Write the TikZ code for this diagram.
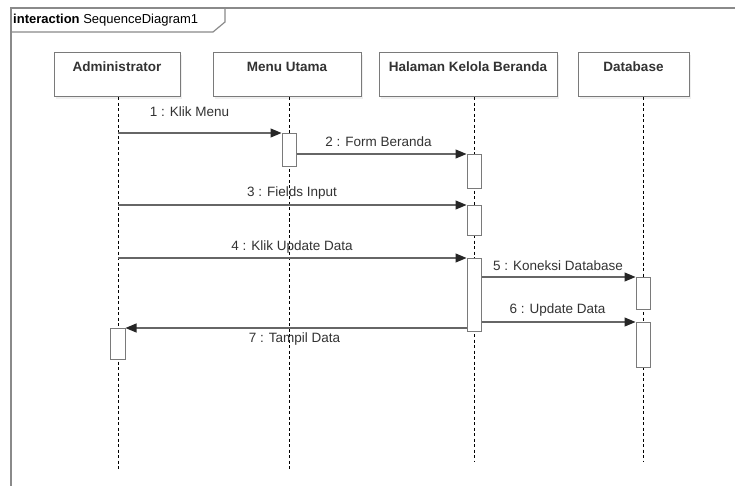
\documentclass[tikz,border=0pt]{standalone}
\usepackage{fontspec}
\setmainfont{Liberation Sans}
\usetikzlibrary{arrows.meta,shadows}
\definecolor{framegray}{HTML}{8A8A8A}
\definecolor{boxgray}{HTML}{7A7A7A}
\definecolor{linegray}{HTML}{666666}
\definecolor{txtgray}{HTML}{333333}
\tikzset{
  head/.style={draw=boxgray, line width=1pt, fill=white, minimum height=44pt, inner sep=0pt,
    drop shadow={shadow xshift=2pt, shadow yshift=-2pt, opacity=0.12}},
  headtxt/.style={font=\fontsize{13.5}{16}\selectfont\bfseries, text=txtgray},
  life/.style={draw=black, line width=0.7pt, dash pattern=on 3pt off 2.5pt},
  act/.style={draw=boxgray, line width=1pt, fill=white, minimum width=14pt, inner sep=0pt},
  msg/.style={draw=linegray, line width=1.2pt, -{Triangle[length=11pt,width=9pt,color=black!85]}},
  lbl/.style={font=\fontsize{13.5}{16}\selectfont, text=txtgray, inner sep=0pt}
}
\begin{document}
\begin{tikzpicture}[x=1pt,y=-1pt]
\useasboundingbox (0,0) rectangle (735,486);
\fill[white] (0,0) rectangle (735,486);
% frame
\draw[framegray, line width=1.6pt] (11,486) -- (11,8) -- (735,8);
\draw[framegray, line width=1.2pt] (11,32) -- (213,32) -- (225,22) -- (225,8);
\node[anchor=west, inner sep=0pt, font=\fontsize{13}{15}\selectfont, text=black] (title) at (13,20) {\textbf{interaction} SequenceDiagram1};
% headers
\node[head, minimum width=126pt, label={[headtxt, anchor=north, yshift=-6pt]north:Administrator}] (adm) at (117,75) {};
\node[head, minimum width=148pt, label={[headtxt, anchor=north, yshift=-6pt]north:Menu Utama}] (menu) at (287,75) {};
\node[head, minimum width=178pt, label={[headtxt, anchor=north, yshift=-6pt]north:Halaman Kelola Beranda}] (hal) at (468,75) {};
\node[head, minimum width=111pt, label={[headtxt, anchor=north, yshift=-6pt]north:Database}] (db) at (633.5,75) {};
% lifeline ends
\coordinate (admend) at (118,469);
\coordinate (menuend) at (289,469);
\coordinate (halend) at (474,462);
\coordinate (dbend) at (643,462);
\draw[life] (adm.south -| admend) -- (admend);
\draw[life] (menu.south -| menuend) -- (menuend);
\draw[life] (hal.south -| halend) -- (halend);
\draw[life] (db.south -| dbend) -- (dbend);
% activations
\node[act, anchor=north, minimum height=33pt] (a1) at (289,133) {};
\node[act, anchor=north, minimum height=34pt] (a2) at (474,154) {};
\node[act, anchor=north, minimum height=30pt] (a3) at (474,205) {};
\node[act, anchor=north, minimum height=73pt] (a4) at (474,258) {};
\node[act, anchor=north, minimum height=32pt] (a5) at (643,277) {};
\node[act, anchor=north, minimum height=45pt] (a6) at (643,322) {};
\node[act, anchor=north, minimum height=31pt, minimum width=15pt] (a7) at (117.5,328) {};
% message sources on the Administrator lifeline
\coordinate (s1) at (118,133);
\coordinate (s3) at (118,205);
\coordinate (s4) at (118,258);
% messages
\draw[msg] (s1) -- (a1.north west);
\draw[msg] (a1.east |- a2.north) -- (a2.north west);
\draw[msg] (s3) -- (a3.north west);
\draw[msg] (s4) -- (a4.north west);
\draw[msg] (a4.east |- a5.north) -- (a5.north west);
\draw[msg] (a4.east |- a6.north) -- (a6.north west);
\draw[msg] (a4.west |- a7.north) -- (a7.north east);
% labels
\node[lbl] (m1) at (189.5,112) {1 : Klik Menu};
\node[lbl] (m2) at (378.5,142) {2 : Form Beranda};
\node[lbl] (m3) at (292,193) {3 : Fields Input};
\node[lbl] (m4) at (292,247) {4 : Klik Update Data};
\node[lbl] (m5) at (558,266) {5 : Koneksi Database};
\node[lbl] (m6) at (557.5,310) {6 : Update Data};
\node[lbl] (m7) at (294.5,339) {7 : Tampil Data};
\end{tikzpicture}
\end{document}
